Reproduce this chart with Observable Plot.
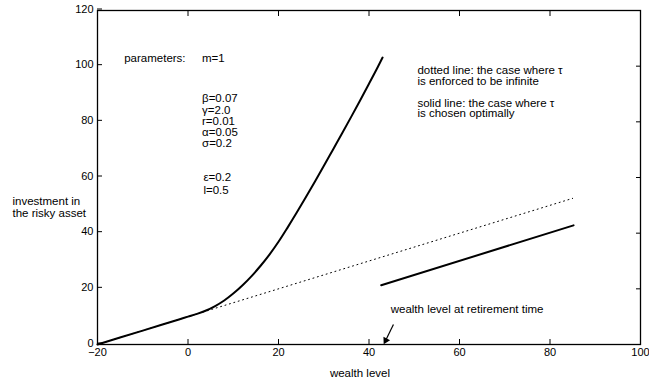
<!DOCTYPE html>
<html>
<head>
<meta charset="utf-8">
<script src="https://cdn.jsdelivr.net/npm/d3@7"></script>
<script src="https://cdn.jsdelivr.net/npm/@observablehq/plot@0.6"></script>
<style>
  html, body { margin: 0; padding: 0; background: #fff; }
  #chart svg { display: block; }
</style>
</head>
<body>
<div id="chart"></div>
<script>
// Optimal investment (solid curve, before retirement threshold)
const curveX = [-20, -10, -2, 0, 2, 4, 6, 8, 10, 12, 14, 16, 18, 20, 22, 24, 26, 28, 30, 32, 34, 36, 38, 40, 42, 43];
const curveY = [0, 5, 9, 10, 11.0, 12.2, 13.8, 15.8, 18.3, 21.2, 24.5, 28.2, 32.3, 36.9, 42.0, 47.3, 52.8, 58.4, 64.1, 69.9, 75.7, 81.6, 87.6, 93.7, 99.9, 103.1];
// tau enforced to be infinite (dotted)
const dottedX = [-20, 85];
const dottedY = [0, 52.5];
// Optimal investment after the retirement wealth level (solid segment)
const segX = [42.7, 85.2];
const segY = [21.3, 42.8];

const xTicks = [-20, 0, 20, 40, 60, 80, 100];
const xTickLabels = ["\u221220", "0", "20", "40", "60", "80", "100"];
const yTicks = [0, 20, 40, 60, 80, 100, 120];
const yTickLabels = ["0", "20", "40", "60", "80", "100", "120"];

const paramHeader = ["parameters:", "m=1"];
const paramGroup1 = ["\u03B2=0.07", "\u03B3=2.0", "r=0.01", "\u03B1=0.05", "\u03C3=0.2"];
const paramGroup2 = ["\u03B5=0.2", "l=0.5"];
const noteDotted = ["dotted line: the case where \u03C4", "is enforced to be infinite"];
const noteSolid = ["solid line: the case where \u03C4", "is chosen optimally"];
const xLabel = "wealth level";
const yLabel = ["investment in", "the risky asset"];
const arrowLabel = "wealth level at retirement time";

const curve = curveX.map((x, i) => ({x, y: curveY[i]}));
const dotted = dottedX.map((x, i) => ({x, y: dottedY[i]}));
const seg = segX.map((x, i) => ({x, y: segY[i]}));

const font = "'Liberation Sans', Arial, Helvetica, sans-serif";
const fmtX = d => xTickLabels[xTicks.indexOf(d)];
const fmtY = d => yTickLabels[yTicks.indexOf(d)];
const fs = 11.5;

const chart = Plot.plot({
  width: 649,
  height: 382,
  marginLeft: 97,
  marginRight: 9,
  marginTop: 10,
  marginBottom: 38,
  style: {fontFamily: font, fontSize: "11px", background: "#fff", color: "#000"},
  x: {domain: [-20, 100]},
  y: {domain: [0, 120]},
  marks: [
    // ticks inward on all four sides
    Plot.axisX(xTicks, {anchor: "bottom", tickSize: -5, tickPadding: 9, tickFormat: fmtX, label: null, fontSize: 11}),
    Plot.axisX(xTicks, {anchor: "top", tickSize: -5, tickFormat: () => "", label: null}),
    Plot.axisY(yTicks, {anchor: "left", tickSize: -5, tickPadding: 9, tickFormat: fmtY, label: null, fontSize: 11, dy: -1.5}),
    Plot.axisY(yTicks, {anchor: "right", tickSize: -5, tickFormat: () => "", label: null}),
    Plot.frame({stroke: "#000", strokeWidth: 1.3}),

    Plot.line(dotted, {x: "x", y: "y", stroke: "#000", strokeWidth: 1, strokeDasharray: "1,3.6"}),
    Plot.line(curve, {x: "x", y: "y", stroke: "#000", strokeWidth: 2, curve: "monotone-x"}),
    Plot.line(seg, {x: "x", y: "y", stroke: "#000", strokeWidth: 2}),

    // annotations
    Plot.text([paramHeader[0]], {x: -14.1, y: 102.7, text: d => d, textAnchor: "start", fontSize: fs}),
    Plot.text([paramHeader[1]], {x: 3.1, y: 102.7, text: d => d, textAnchor: "start", fontSize: fs}),
    Plot.text([paramGroup1.join("\n")], {x: 3.1, y: 80.2, text: d => d, textAnchor: "start", lineAnchor: "middle", lineHeight: 0.98, fontSize: fs}),
    Plot.text([paramGroup2.join("\n")], {x: 3.4, y: 57.9, text: d => d, textAnchor: "start", lineAnchor: "middle", lineHeight: 1.08, fontSize: fs}),
    Plot.text([noteDotted.join("\n")], {x: 50.7, y: 96.4, text: d => d, textAnchor: "start", lineAnchor: "middle", lineHeight: 0.92, fontSize: fs}),
    Plot.text([noteSolid.join("\n")], {x: 50.7, y: 84.7, text: d => d, textAnchor: "start", lineAnchor: "middle", lineHeight: 0.92, fontSize: fs}),
    Plot.text([arrowLabel], {x: 44.8, y: 12.6, text: d => d, textAnchor: "start", fontSize: fs}),
    Plot.link([arrowLabel], {x1: 45.4, y1: 7.2, x2: 43.7, y2: 1.5, stroke: "#000", strokeWidth: 1.2}),
    Plot.dot([arrowLabel], {x: 43.7, y: 1.45, symbol: "triangle", r: 2.8, fill: "#000", stroke: "none", rotate: 208}),

    // axis labels
    Plot.text([xLabel], {x: 38, y: 0, dy: 28.7, text: d => d, fontSize: fs}),
    Plot.text([yLabel.join("\n")], {x: -20, y: 49.3, dx: -85, text: d => d, textAnchor: "start", lineAnchor: "middle", lineHeight: 1.0, fontSize: fs})
  ]
});
document.getElementById("chart").appendChild(chart);
</script>
</body>
</html>
